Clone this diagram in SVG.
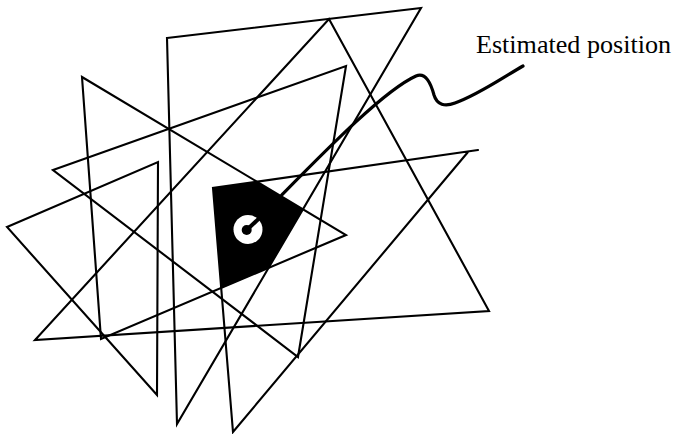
<svg xmlns="http://www.w3.org/2000/svg" width="673" height="434" viewBox="0 0 673 434">
<style>
.ln{fill:none;stroke:#000;stroke-width:2.1;stroke-linejoin:miter;stroke-linecap:round}
.crv{fill:none;stroke:#000;stroke-width:3.2;stroke-linecap:round}
.lbl{font-family:"Liberation Serif","DejaVu Serif",serif;font-size:26px;fill:#000}
</style>
<rect width="673" height="434" fill="#fff"/>
<g id="region">
<polygon points="213,188 257,181.7 303,209 268.5,268.1 221.2,288.3" fill="#000"/>
<circle cx="248" cy="229.5" r="14.5" fill="#fff"/>
<line x1="246.7" y1="230" x2="260" y2="217.5" stroke="#000" stroke-width="4"/>
<circle cx="246.7" cy="230" r="5" fill="#000"/>
</g>
<g id="lines">
<polygon id="t1" class="ln" points="167,38 421,8 177,424"/>
<polygon id="t2" class="ln" points="329,19 489,311 35,340"/>
<polygon id="t3" class="ln" points="82,77 346,235 101,339"/>
<polygon id="t4" class="ln" points="53,170 346,66 298,357"/>
<polygon id="t5" class="ln" points="7,227 158,162 157,395"/>
<path id="t6" class="ln" d="M478,150 L213,188 L233,432 L468,152"/>
</g>
<g id="pointer">
<path class="crv" d="M281.7,195 C330,146 385,90 416,76 C426,72 431,84 434,95 C437,105 445,107 455,103 C478,95 502,78 523,66"/>
</g>
<g id="label">
<text class="lbl" x="476" y="53" textLength="195" lengthAdjust="spacingAndGlyphs">Estimated position</text>
</g>
</svg>
